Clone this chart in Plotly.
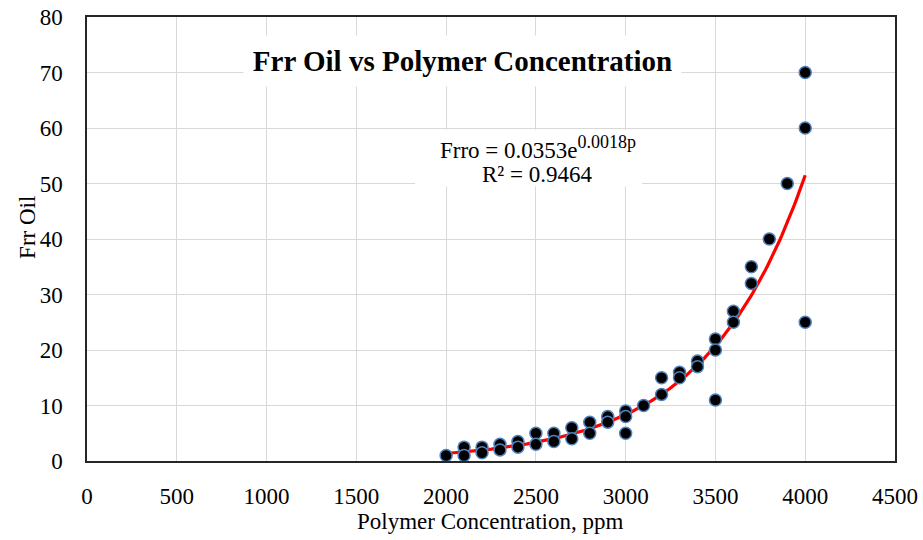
import numpy as np
import plotly.graph_objects as go

conc = [2000, 2100, 2100, 2200, 2200, 2300, 2300, 2400, 2400, 2500, 2500,
        2600, 2600, 2700, 2700, 2800, 2800, 2900, 2900, 3000, 3000, 3000,
        3100, 3200, 3200, 3300, 3300, 3400, 3400, 3500, 3500, 3500,
        3600, 3600, 3700, 3700, 3800, 3900, 4000, 4000, 4000]
frr = [1, 2.5, 1, 2.5, 1.5, 3, 2, 3.5, 2.5, 5, 3,
       5, 3.5, 6, 4, 7, 5, 8, 7, 9, 8, 5,
       10, 15, 12, 16, 15, 18, 17, 22, 20, 11,
       27, 25, 35, 32, 40, 50, 70, 60, 25]

x_ticks = [0, 500, 1000, 1500, 2000, 2500, 3000, 3500, 4000, 4500]
y_ticks = [0, 10, 20, 30, 40, 50, 60, 70, 80]

# exponential trendline (least squares on log y, like Excel)
b, ln_a = np.polyfit(np.array(conc, float), np.log(np.array(frr, float)), 1)
a = np.exp(ln_a)
xt = np.linspace(min(conc), max(conc), 200)
yt = a * np.exp(b * xt)

FONT = "Liberation Serif, Times New Roman, serif"
FS = 23

fig = go.Figure()
fig.add_trace(go.Scatter(x=xt, y=yt, mode="lines",
                         line=dict(color="#ff0000", width=3.2),
                         showlegend=False, hoverinfo="skip"))
fig.add_trace(go.Scatter(x=conc, y=frr, mode="markers",
                         marker=dict(color="black", size=12,
                                     line=dict(color="#4f81bd", width=1.5)),
                         showlegend=False))

fig.update_layout(
    width=923, height=540,
    margin=dict(l=87, r=28, t=17, b=79, autoexpand=False),
    paper_bgcolor="white", plot_bgcolor="white",
    font=dict(family=FONT, size=FS, color="black"),
    xaxis=dict(range=[0, 4500], tickvals=x_ticks, showgrid=True,
               gridcolor="#d9d9d9", gridwidth=1.3, zeroline=False,
               showline=True, linecolor="#262626", linewidth=1.5, mirror=True,
               ticks="", ticklabelstandoff=14, automargin=False,
               tickfont=dict(size=FS)),
    yaxis=dict(range=[0, 80], tickvals=y_ticks, showgrid=True,
               gridcolor="#d9d9d9", gridwidth=1.3, zeroline=False,
               showline=True, linecolor="#262626", linewidth=1.5, mirror=True,
               ticks="", ticklabelstandoff=18, automargin=False,
               tickfont=dict(size=FS)),
    shapes=[
        dict(type="rect", xref="paper", yref="paper",
             x0=0.406, x1=0.687, y0=0.619, y1=0.746,
             fillcolor="white", line=dict(width=0), layer="above"),
    ],
    annotations=[
        dict(x=(490 - 87) / 808, y=-0.137, xref="paper", yref="paper",
             text="Polymer Concentration, ppm", showarrow=False,
             font=dict(size=FS), xanchor="center", yanchor="middle"),
        dict(x=-0.073, y=0.525, xref="paper", yref="paper",
             text="Frr Oil", showarrow=False, textangle=-90,
             font=dict(size=FS), xanchor="center", yanchor="middle"),
        dict(x=0.465, y=72.0, xref="paper", yref="y",
             text="<b>Frr Oil vs Polymer Concentration</b>",
             showarrow=False, font=dict(size=29),
             bgcolor="white", width=435, height=48,
             xanchor="center", yanchor="middle"),
        dict(x=0.558, y=0.705, xref="paper", yref="paper",
             text="Frro = 0.0353e<sup><span style='font-size:18px'>0.0018p</span></sup>",
             showarrow=False, font=dict(size=FS),
             xanchor="center", yanchor="middle"),
        dict(x=0.557, y=0.646, xref="paper", yref="paper",
             text="R² = 0.9464",
             showarrow=False, font=dict(size=FS),
             xanchor="center", yanchor="middle"),
    ],
)

fig.write_html("out.html", config={"displayModeBar": False},
               post_script="document.body.style.margin='0px';document.body.style.overflow='hidden';")
